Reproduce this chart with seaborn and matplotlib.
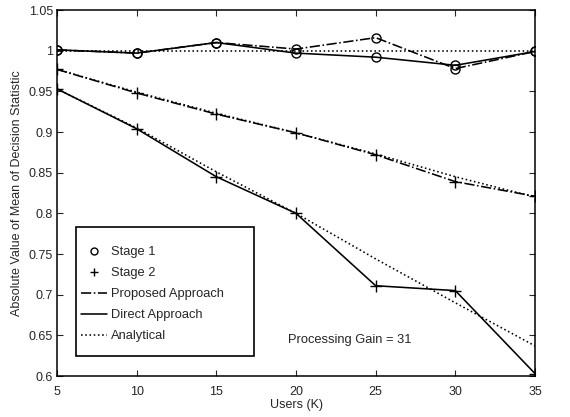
import matplotlib
matplotlib.use("Agg")
import matplotlib.pyplot as plt
import seaborn as sns
from matplotlib.lines import Line2D
from matplotlib.patches import Rectangle

users = [5, 10, 15, 20, 25, 30, 35]
stage1_proposed = [1.001, 0.997, 1.010, 1.002, 1.016, 0.978, 0.999]
stage1_direct = [1.001, 0.997, 1.010, 0.997, 0.992, 0.982, 0.999]
stage1_analytical = [1.0, 1.0, 1.0, 1.0, 1.0, 1.0, 1.0]
stage2_proposed = [0.977, 0.948, 0.922, 0.899, 0.872, 0.839, 0.821]
stage2_direct = [0.953, 0.904, 0.845, 0.800, 0.711, 0.705, 0.603]
stage2_analytical_prop = [0.977, 0.949, 0.923, 0.899, 0.873, 0.845, 0.820]
stage2_analytical_dir = [0.953, 0.905, 0.851, 0.800, 0.744, 0.690, 0.637]

yticks = [0.6, 0.65, 0.7, 0.75, 0.8, 0.85, 0.9, 0.95, 1.0, 1.05]
ytick_labels = ["0.6", "0.65", "0.7", "0.75", "0.8", "0.85", "0.9", "0.95", "1", "1.05"]
xticks = [5, 10, 15, 20, 25, 30, 35]
legend_labels = ["Stage 1", "Stage 2", "Proposed Approach", "Direct Approach", "Analytical"]

sns.set_style("ticks")
plt.rcParams['font.family'] = ['Liberation Sans', 'DejaVu Sans']

fig = plt.figure(figsize=(5.7, 4.17), dpi=100)
ax = fig.add_axes([0.1, 0.0983, 0.8386, 0.8777])

lw = 1.15
def draw(y, ls, marker=None):
    sns.lineplot(x=users, y=y, ax=ax, color="black", linestyle=ls, linewidth=lw,
                 marker=marker, markersize=6.5 if marker == "o" else 8,
                 markerfacecolor="none", markeredgecolor="black", markeredgewidth=1.0)

# analytical (dotted)
draw(stage1_analytical, ":")
draw(stage2_analytical_prop, ":")
draw(stage2_analytical_dir, ":")
# proposed (dash-dot)
draw(stage1_proposed, "-.", "o")
draw(stage2_proposed, "-.", "+")
# direct (solid)
draw(stage1_direct, "-", "o")
draw(stage2_direct, "-", "+")

ax.set_xlim(5, 35)
ax.set_ylim(0.6, 1.05)
ax.set_xticks(xticks)
ax.set_xticklabels([str(v) for v in xticks])
ax.set_yticks(yticks)
ax.set_yticklabels(ytick_labels)
ax.tick_params(direction="in", top=True, right=True, labelsize=9, length=4, width=0.8)
ax.tick_params(axis="x", pad=7)
ax.tick_params(axis="y", pad=3)
for s in ax.spines.values():
    s.set_visible(True)
    s.set_linewidth(1.1)
    s.set_color("black")
ax.set_xlabel("Users (K)", fontsize=9, labelpad=1)
ax.set_ylabel("Absolute Value of Mean of Decision Statistic", fontsize=9, labelpad=4)

handles = [
    Line2D([], [], color="black", linestyle="none", marker="o", markerfacecolor="none", markersize=5),
    Line2D([], [], color="black", linestyle="none", marker="+", markersize=6),
    Line2D([], [], color="black", linestyle="-.", linewidth=lw),
    Line2D([], [], color="black", linestyle="-", linewidth=lw),
    Line2D([], [], color="black", linestyle=":", linewidth=lw),
]
ax.add_patch(Rectangle((0.0397, 0.0546), 0.3724, 0.3524, transform=ax.transAxes,
                       fill=True, facecolor="white", edgecolor="black", linewidth=1.2, zorder=4))
leg = ax.legend(handles, legend_labels, loc="upper left", bbox_to_anchor=(0.051, 0.354),
                fontsize=9.3, frameon=False, borderpad=0, borderaxespad=0,
                handlelength=1.95, handletextpad=0.35, labelspacing=0.69)
leg.set_zorder(5)

ax.text(23.4, 0.644, "Processing Gain = 31", fontsize=9.3, ha="center", va="center")

fig.savefig("out.png", dpi=100)
